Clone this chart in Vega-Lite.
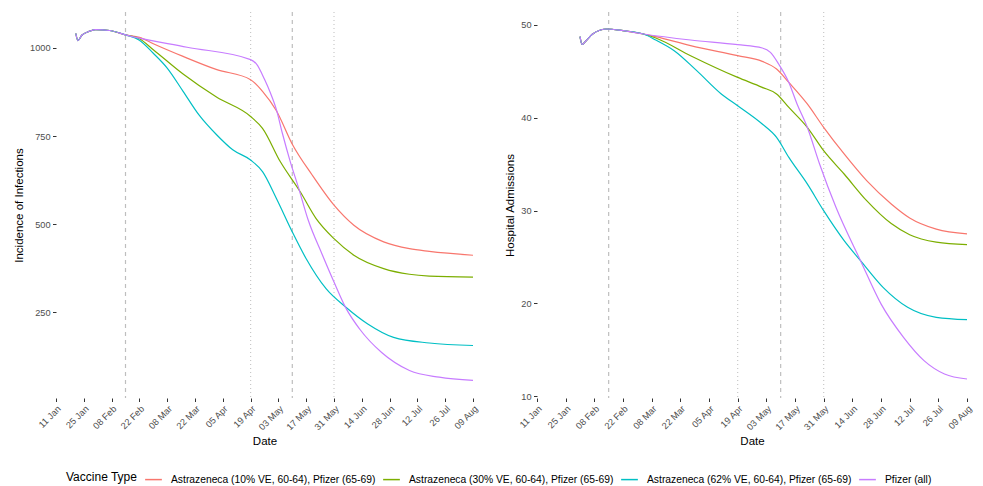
{
  "$schema": "https://vega.github.io/schema/vega-lite/v6.json",
  "background": "white",
  "padding": {"left": 13, "top": 11, "right": 5, "bottom": 0},
  "spacing": 64,
  "bounds": "flush",
  "datasets": {
    "vlines": [
      {"date": "2021-02-15", "kind": "dashed"},
      {"date": "2021-05-10", "kind": "dashed"},
      {"date": "2021-04-19", "kind": "dotted"},
      {"date": "2021-05-31", "kind": "dotted"}
    ],
    "curves": [
      {"panel": "inf", "series": "Astrazeneca (10% VE, 60-64), Pfizer (65-69)", "date": "2021-01-21", "value": 1041},
      {"panel": "inf", "series": "Astrazeneca (10% VE, 60-64), Pfizer (65-69)", "date": "2021-01-22", "value": 1021},
      {"panel": "inf", "series": "Astrazeneca (10% VE, 60-64), Pfizer (65-69)", "date": "2021-01-24", "value": 1036},
      {"panel": "inf", "series": "Astrazeneca (10% VE, 60-64), Pfizer (65-69)", "date": "2021-01-28", "value": 1047.6},
      {"panel": "inf", "series": "Astrazeneca (10% VE, 60-64), Pfizer (65-69)", "date": "2021-01-31", "value": 1052},
      {"panel": "inf", "series": "Astrazeneca (10% VE, 60-64), Pfizer (65-69)", "date": "2021-02-07", "value": 1049.5},
      {"panel": "inf", "series": "Astrazeneca (10% VE, 60-64), Pfizer (65-69)", "date": "2021-02-15", "value": 1037},
      {"panel": "inf", "series": "Astrazeneca (10% VE, 60-64), Pfizer (65-69)", "date": "2021-02-22", "value": 1030},
      {"panel": "inf", "series": "Astrazeneca (10% VE, 60-64), Pfizer (65-69)", "date": "2021-03-01", "value": 1012},
      {"panel": "inf", "series": "Astrazeneca (10% VE, 60-64), Pfizer (65-69)", "date": "2021-03-16", "value": 976},
      {"panel": "inf", "series": "Astrazeneca (10% VE, 60-64), Pfizer (65-69)", "date": "2021-04-02", "value": 938.5},
      {"panel": "inf", "series": "Astrazeneca (10% VE, 60-64), Pfizer (65-69)", "date": "2021-04-19", "value": 910},
      {"panel": "inf", "series": "Astrazeneca (10% VE, 60-64), Pfizer (65-69)", "date": "2021-04-25", "value": 877},
      {"panel": "inf", "series": "Astrazeneca (10% VE, 60-64), Pfizer (65-69)", "date": "2021-05-02", "value": 822},
      {"panel": "inf", "series": "Astrazeneca (10% VE, 60-64), Pfizer (65-69)", "date": "2021-05-10", "value": 727},
      {"panel": "inf", "series": "Astrazeneca (10% VE, 60-64), Pfizer (65-69)", "date": "2021-05-20", "value": 639.5},
      {"panel": "inf", "series": "Astrazeneca (10% VE, 60-64), Pfizer (65-69)", "date": "2021-05-31", "value": 554},
      {"panel": "inf", "series": "Astrazeneca (10% VE, 60-64), Pfizer (65-69)", "date": "2021-06-10", "value": 497},
      {"panel": "inf", "series": "Astrazeneca (10% VE, 60-64), Pfizer (65-69)", "date": "2021-06-25", "value": 450},
      {"panel": "inf", "series": "Astrazeneca (10% VE, 60-64), Pfizer (65-69)", "date": "2021-07-08", "value": 430.5},
      {"panel": "inf", "series": "Astrazeneca (10% VE, 60-64), Pfizer (65-69)", "date": "2021-07-18", "value": 423},
      {"panel": "inf", "series": "Astrazeneca (10% VE, 60-64), Pfizer (65-69)", "date": "2021-08-09", "value": 412},

      {"panel": "inf", "series": "Astrazeneca (30% VE, 60-64), Pfizer (65-69)", "date": "2021-01-21", "value": 1041},
      {"panel": "inf", "series": "Astrazeneca (30% VE, 60-64), Pfizer (65-69)", "date": "2021-01-22", "value": 1021},
      {"panel": "inf", "series": "Astrazeneca (30% VE, 60-64), Pfizer (65-69)", "date": "2021-01-24", "value": 1036},
      {"panel": "inf", "series": "Astrazeneca (30% VE, 60-64), Pfizer (65-69)", "date": "2021-01-28", "value": 1047.6},
      {"panel": "inf", "series": "Astrazeneca (30% VE, 60-64), Pfizer (65-69)", "date": "2021-01-31", "value": 1052},
      {"panel": "inf", "series": "Astrazeneca (30% VE, 60-64), Pfizer (65-69)", "date": "2021-02-07", "value": 1049.5},
      {"panel": "inf", "series": "Astrazeneca (30% VE, 60-64), Pfizer (65-69)", "date": "2021-02-15", "value": 1037},
      {"panel": "inf", "series": "Astrazeneca (30% VE, 60-64), Pfizer (65-69)", "date": "2021-02-22", "value": 1026},
      {"panel": "inf", "series": "Astrazeneca (30% VE, 60-64), Pfizer (65-69)", "date": "2021-03-01", "value": 995},
      {"panel": "inf", "series": "Astrazeneca (30% VE, 60-64), Pfizer (65-69)", "date": "2021-03-16", "value": 926},
      {"panel": "inf", "series": "Astrazeneca (30% VE, 60-64), Pfizer (65-69)", "date": "2021-04-02", "value": 860},
      {"panel": "inf", "series": "Astrazeneca (30% VE, 60-64), Pfizer (65-69)", "date": "2021-04-19", "value": 805.5},
      {"panel": "inf", "series": "Astrazeneca (30% VE, 60-64), Pfizer (65-69)", "date": "2021-04-25", "value": 772},
      {"panel": "inf", "series": "Astrazeneca (30% VE, 60-64), Pfizer (65-69)", "date": "2021-05-04", "value": 677},
      {"panel": "inf", "series": "Astrazeneca (30% VE, 60-64), Pfizer (65-69)", "date": "2021-05-14", "value": 592},
      {"panel": "inf", "series": "Astrazeneca (30% VE, 60-64), Pfizer (65-69)", "date": "2021-05-22", "value": 516},
      {"panel": "inf", "series": "Astrazeneca (30% VE, 60-64), Pfizer (65-69)", "date": "2021-05-31", "value": 459},
      {"panel": "inf", "series": "Astrazeneca (30% VE, 60-64), Pfizer (65-69)", "date": "2021-06-10", "value": 412},
      {"panel": "inf", "series": "Astrazeneca (30% VE, 60-64), Pfizer (65-69)", "date": "2021-06-25", "value": 374},
      {"panel": "inf", "series": "Astrazeneca (30% VE, 60-64), Pfizer (65-69)", "date": "2021-07-08", "value": 358},
      {"panel": "inf", "series": "Astrazeneca (30% VE, 60-64), Pfizer (65-69)", "date": "2021-07-18", "value": 353},
      {"panel": "inf", "series": "Astrazeneca (30% VE, 60-64), Pfizer (65-69)", "date": "2021-08-09", "value": 350},

      {"panel": "inf", "series": "Astrazeneca (62% VE, 60-64), Pfizer (65-69)", "date": "2021-01-21", "value": 1041},
      {"panel": "inf", "series": "Astrazeneca (62% VE, 60-64), Pfizer (65-69)", "date": "2021-01-22", "value": 1021},
      {"panel": "inf", "series": "Astrazeneca (62% VE, 60-64), Pfizer (65-69)", "date": "2021-01-24", "value": 1036},
      {"panel": "inf", "series": "Astrazeneca (62% VE, 60-64), Pfizer (65-69)", "date": "2021-01-28", "value": 1047.6},
      {"panel": "inf", "series": "Astrazeneca (62% VE, 60-64), Pfizer (65-69)", "date": "2021-01-31", "value": 1052},
      {"panel": "inf", "series": "Astrazeneca (62% VE, 60-64), Pfizer (65-69)", "date": "2021-02-07", "value": 1049.5},
      {"panel": "inf", "series": "Astrazeneca (62% VE, 60-64), Pfizer (65-69)", "date": "2021-02-15", "value": 1037},
      {"panel": "inf", "series": "Astrazeneca (62% VE, 60-64), Pfizer (65-69)", "date": "2021-02-22", "value": 1022},
      {"panel": "inf", "series": "Astrazeneca (62% VE, 60-64), Pfizer (65-69)", "date": "2021-03-01", "value": 985},
      {"panel": "inf", "series": "Astrazeneca (62% VE, 60-64), Pfizer (65-69)", "date": "2021-03-08", "value": 943},
      {"panel": "inf", "series": "Astrazeneca (62% VE, 60-64), Pfizer (65-69)", "date": "2021-03-16", "value": 877},
      {"panel": "inf", "series": "Astrazeneca (62% VE, 60-64), Pfizer (65-69)", "date": "2021-03-24", "value": 810},
      {"panel": "inf", "series": "Astrazeneca (62% VE, 60-64), Pfizer (65-69)", "date": "2021-04-02", "value": 753},
      {"panel": "inf", "series": "Astrazeneca (62% VE, 60-64), Pfizer (65-69)", "date": "2021-04-10", "value": 711},
      {"panel": "inf", "series": "Astrazeneca (62% VE, 60-64), Pfizer (65-69)", "date": "2021-04-19", "value": 682},
      {"panel": "inf", "series": "Astrazeneca (62% VE, 60-64), Pfizer (65-69)", "date": "2021-04-25", "value": 649},
      {"panel": "inf", "series": "Astrazeneca (62% VE, 60-64), Pfizer (65-69)", "date": "2021-05-02", "value": 573},
      {"panel": "inf", "series": "Astrazeneca (62% VE, 60-64), Pfizer (65-69)", "date": "2021-05-10", "value": 478},
      {"panel": "inf", "series": "Astrazeneca (62% VE, 60-64), Pfizer (65-69)", "date": "2021-05-17", "value": 402},
      {"panel": "inf", "series": "Astrazeneca (62% VE, 60-64), Pfizer (65-69)", "date": "2021-05-27", "value": 317},
      {"panel": "inf", "series": "Astrazeneca (62% VE, 60-64), Pfizer (65-69)", "date": "2021-06-06", "value": 264.5},
      {"panel": "inf", "series": "Astrazeneca (62% VE, 60-64), Pfizer (65-69)", "date": "2021-06-17", "value": 217},
      {"panel": "inf", "series": "Astrazeneca (62% VE, 60-64), Pfizer (65-69)", "date": "2021-06-30", "value": 179},
      {"panel": "inf", "series": "Astrazeneca (62% VE, 60-64), Pfizer (65-69)", "date": "2021-07-18", "value": 163},
      {"panel": "inf", "series": "Astrazeneca (62% VE, 60-64), Pfizer (65-69)", "date": "2021-08-09", "value": 156},

      {"panel": "inf", "series": "Pfizer (all)", "date": "2021-01-21", "value": 1041},
      {"panel": "inf", "series": "Pfizer (all)", "date": "2021-01-22", "value": 1021},
      {"panel": "inf", "series": "Pfizer (all)", "date": "2021-01-24", "value": 1036},
      {"panel": "inf", "series": "Pfizer (all)", "date": "2021-01-28", "value": 1047.6},
      {"panel": "inf", "series": "Pfizer (all)", "date": "2021-01-31", "value": 1052},
      {"panel": "inf", "series": "Pfizer (all)", "date": "2021-02-07", "value": 1049.5},
      {"panel": "inf", "series": "Pfizer (all)", "date": "2021-02-15", "value": 1037},
      {"panel": "inf", "series": "Pfizer (all)", "date": "2021-03-18", "value": 1002},
      {"panel": "inf", "series": "Pfizer (all)", "date": "2021-04-19", "value": 967},
      {"panel": "inf", "series": "Pfizer (all)", "date": "2021-04-22", "value": 954},
      {"panel": "inf", "series": "Pfizer (all)", "date": "2021-04-26", "value": 911},
      {"panel": "inf", "series": "Pfizer (all)", "date": "2021-04-29", "value": 872},
      {"panel": "inf", "series": "Pfizer (all)", "date": "2021-05-02", "value": 825},
      {"panel": "inf", "series": "Pfizer (all)", "date": "2021-05-05", "value": 758},
      {"panel": "inf", "series": "Pfizer (all)", "date": "2021-05-09", "value": 677},
      {"panel": "inf", "series": "Pfizer (all)", "date": "2021-05-13", "value": 606},
      {"panel": "inf", "series": "Pfizer (all)", "date": "2021-05-18", "value": 512},
      {"panel": "inf", "series": "Pfizer (all)", "date": "2021-05-25", "value": 415},
      {"panel": "inf", "series": "Pfizer (all)", "date": "2021-05-31", "value": 336},
      {"panel": "inf", "series": "Pfizer (all)", "date": "2021-06-06", "value": 262},
      {"panel": "inf", "series": "Pfizer (all)", "date": "2021-06-13", "value": 202},
      {"panel": "inf", "series": "Pfizer (all)", "date": "2021-06-24", "value": 136},
      {"panel": "inf", "series": "Pfizer (all)", "date": "2021-07-08", "value": 85},
      {"panel": "inf", "series": "Pfizer (all)", "date": "2021-07-23", "value": 66},
      {"panel": "inf", "series": "Pfizer (all)", "date": "2021-08-09", "value": 57},

      {"panel": "hosp", "series": "Astrazeneca (10% VE, 60-64), Pfizer (65-69)", "date": "2021-02-01", "value": 48.74},
      {"panel": "hosp", "series": "Astrazeneca (10% VE, 60-64), Pfizer (65-69)", "date": "2021-02-02", "value": 47.9},
      {"panel": "hosp", "series": "Astrazeneca (10% VE, 60-64), Pfizer (65-69)", "date": "2021-02-04", "value": 48.3},
      {"panel": "hosp", "series": "Astrazeneca (10% VE, 60-64), Pfizer (65-69)", "date": "2021-02-07", "value": 49.0},
      {"panel": "hosp", "series": "Astrazeneca (10% VE, 60-64), Pfizer (65-69)", "date": "2021-02-11", "value": 49.46},
      {"panel": "hosp", "series": "Astrazeneca (10% VE, 60-64), Pfizer (65-69)", "date": "2021-02-14", "value": 49.57},
      {"panel": "hosp", "series": "Astrazeneca (10% VE, 60-64), Pfizer (65-69)", "date": "2021-02-22", "value": 49.39},
      {"panel": "hosp", "series": "Astrazeneca (10% VE, 60-64), Pfizer (65-69)", "date": "2021-03-04", "value": 49.03},
      {"panel": "hosp", "series": "Astrazeneca (10% VE, 60-64), Pfizer (65-69)", "date": "2021-03-10", "value": 48.74},
      {"panel": "hosp", "series": "Astrazeneca (10% VE, 60-64), Pfizer (65-69)", "date": "2021-03-27", "value": 47.77},
      {"panel": "hosp", "series": "Astrazeneca (10% VE, 60-64), Pfizer (65-69)", "date": "2021-04-19", "value": 46.69},
      {"panel": "hosp", "series": "Astrazeneca (10% VE, 60-64), Pfizer (65-69)", "date": "2021-05-01", "value": 46.08},
      {"panel": "hosp", "series": "Astrazeneca (10% VE, 60-64), Pfizer (65-69)", "date": "2021-05-08", "value": 45.26},
      {"panel": "hosp", "series": "Astrazeneca (10% VE, 60-64), Pfizer (65-69)", "date": "2021-05-14", "value": 43.81},
      {"panel": "hosp", "series": "Astrazeneca (10% VE, 60-64), Pfizer (65-69)", "date": "2021-05-23", "value": 41.49},
      {"panel": "hosp", "series": "Astrazeneca (10% VE, 60-64), Pfizer (65-69)", "date": "2021-05-31", "value": 38.97},
      {"panel": "hosp", "series": "Astrazeneca (10% VE, 60-64), Pfizer (65-69)", "date": "2021-06-10", "value": 36.10},
      {"panel": "hosp", "series": "Astrazeneca (10% VE, 60-64), Pfizer (65-69)", "date": "2021-06-21", "value": 33.22},
      {"panel": "hosp", "series": "Astrazeneca (10% VE, 60-64), Pfizer (65-69)", "date": "2021-07-03", "value": 30.71},
      {"panel": "hosp", "series": "Astrazeneca (10% VE, 60-64), Pfizer (65-69)", "date": "2021-07-12", "value": 29.2},
      {"panel": "hosp", "series": "Astrazeneca (10% VE, 60-64), Pfizer (65-69)", "date": "2021-07-25", "value": 28.0},
      {"panel": "hosp", "series": "Astrazeneca (10% VE, 60-64), Pfizer (65-69)", "date": "2021-08-09", "value": 27.48},

      {"panel": "hosp", "series": "Astrazeneca (30% VE, 60-64), Pfizer (65-69)", "date": "2021-02-01", "value": 48.74},
      {"panel": "hosp", "series": "Astrazeneca (30% VE, 60-64), Pfizer (65-69)", "date": "2021-02-02", "value": 47.9},
      {"panel": "hosp", "series": "Astrazeneca (30% VE, 60-64), Pfizer (65-69)", "date": "2021-02-04", "value": 48.3},
      {"panel": "hosp", "series": "Astrazeneca (30% VE, 60-64), Pfizer (65-69)", "date": "2021-02-07", "value": 49.0},
      {"panel": "hosp", "series": "Astrazeneca (30% VE, 60-64), Pfizer (65-69)", "date": "2021-02-11", "value": 49.46},
      {"panel": "hosp", "series": "Astrazeneca (30% VE, 60-64), Pfizer (65-69)", "date": "2021-02-14", "value": 49.57},
      {"panel": "hosp", "series": "Astrazeneca (30% VE, 60-64), Pfizer (65-69)", "date": "2021-02-22", "value": 49.39},
      {"panel": "hosp", "series": "Astrazeneca (30% VE, 60-64), Pfizer (65-69)", "date": "2021-03-04", "value": 49.03},
      {"panel": "hosp", "series": "Astrazeneca (30% VE, 60-64), Pfizer (65-69)", "date": "2021-03-10", "value": 48.6},
      {"panel": "hosp", "series": "Astrazeneca (30% VE, 60-64), Pfizer (65-69)", "date": "2021-03-27", "value": 46.69},
      {"panel": "hosp", "series": "Astrazeneca (30% VE, 60-64), Pfizer (65-69)", "date": "2021-04-19", "value": 44.35},
      {"panel": "hosp", "series": "Astrazeneca (30% VE, 60-64), Pfizer (65-69)", "date": "2021-05-01", "value": 43.28},
      {"panel": "hosp", "series": "Astrazeneca (30% VE, 60-64), Pfizer (65-69)", "date": "2021-05-08", "value": 42.57},
      {"panel": "hosp", "series": "Astrazeneca (30% VE, 60-64), Pfizer (65-69)", "date": "2021-05-14", "value": 41.12},
      {"panel": "hosp", "series": "Astrazeneca (30% VE, 60-64), Pfizer (65-69)", "date": "2021-05-23", "value": 38.97},
      {"panel": "hosp", "series": "Astrazeneca (30% VE, 60-64), Pfizer (65-69)", "date": "2021-05-31", "value": 36.45},
      {"panel": "hosp", "series": "Astrazeneca (30% VE, 60-64), Pfizer (65-69)", "date": "2021-06-10", "value": 33.94},
      {"panel": "hosp", "series": "Astrazeneca (30% VE, 60-64), Pfizer (65-69)", "date": "2021-06-21", "value": 31.07},
      {"panel": "hosp", "series": "Astrazeneca (30% VE, 60-64), Pfizer (65-69)", "date": "2021-07-03", "value": 28.6},
      {"panel": "hosp", "series": "Astrazeneca (30% VE, 60-64), Pfizer (65-69)", "date": "2021-07-12", "value": 27.4},
      {"panel": "hosp", "series": "Astrazeneca (30% VE, 60-64), Pfizer (65-69)", "date": "2021-07-25", "value": 26.6},
      {"panel": "hosp", "series": "Astrazeneca (30% VE, 60-64), Pfizer (65-69)", "date": "2021-08-09", "value": 26.33},

      {"panel": "hosp", "series": "Astrazeneca (62% VE, 60-64), Pfizer (65-69)", "date": "2021-02-01", "value": 48.74},
      {"panel": "hosp", "series": "Astrazeneca (62% VE, 60-64), Pfizer (65-69)", "date": "2021-02-02", "value": 47.9},
      {"panel": "hosp", "series": "Astrazeneca (62% VE, 60-64), Pfizer (65-69)", "date": "2021-02-04", "value": 48.3},
      {"panel": "hosp", "series": "Astrazeneca (62% VE, 60-64), Pfizer (65-69)", "date": "2021-02-07", "value": 49.0},
      {"panel": "hosp", "series": "Astrazeneca (62% VE, 60-64), Pfizer (65-69)", "date": "2021-02-11", "value": 49.46},
      {"panel": "hosp", "series": "Astrazeneca (62% VE, 60-64), Pfizer (65-69)", "date": "2021-02-14", "value": 49.57},
      {"panel": "hosp", "series": "Astrazeneca (62% VE, 60-64), Pfizer (65-69)", "date": "2021-02-22", "value": 49.39},
      {"panel": "hosp", "series": "Astrazeneca (62% VE, 60-64), Pfizer (65-69)", "date": "2021-03-04", "value": 49.03},
      {"panel": "hosp", "series": "Astrazeneca (62% VE, 60-64), Pfizer (65-69)", "date": "2021-03-10", "value": 48.38},
      {"panel": "hosp", "series": "Astrazeneca (62% VE, 60-64), Pfizer (65-69)", "date": "2021-03-19", "value": 47.23},
      {"panel": "hosp", "series": "Astrazeneca (62% VE, 60-64), Pfizer (65-69)", "date": "2021-03-30", "value": 45.08},
      {"panel": "hosp", "series": "Astrazeneca (62% VE, 60-64), Pfizer (65-69)", "date": "2021-04-11", "value": 42.57},
      {"panel": "hosp", "series": "Astrazeneca (62% VE, 60-64), Pfizer (65-69)", "date": "2021-04-19", "value": 41.30},
      {"panel": "hosp", "series": "Astrazeneca (62% VE, 60-64), Pfizer (65-69)", "date": "2021-05-01", "value": 39.33},
      {"panel": "hosp", "series": "Astrazeneca (62% VE, 60-64), Pfizer (65-69)", "date": "2021-05-08", "value": 37.89},
      {"panel": "hosp", "series": "Astrazeneca (62% VE, 60-64), Pfizer (65-69)", "date": "2021-05-14", "value": 35.73},
      {"panel": "hosp", "series": "Astrazeneca (62% VE, 60-64), Pfizer (65-69)", "date": "2021-05-23", "value": 32.87},
      {"panel": "hosp", "series": "Astrazeneca (62% VE, 60-64), Pfizer (65-69)", "date": "2021-05-31", "value": 29.99},
      {"panel": "hosp", "series": "Astrazeneca (62% VE, 60-64), Pfizer (65-69)", "date": "2021-06-10", "value": 26.76},
      {"panel": "hosp", "series": "Astrazeneca (62% VE, 60-64), Pfizer (65-69)", "date": "2021-06-18", "value": 24.60},
      {"panel": "hosp", "series": "Astrazeneca (62% VE, 60-64), Pfizer (65-69)", "date": "2021-06-29", "value": 21.72},
      {"panel": "hosp", "series": "Astrazeneca (62% VE, 60-64), Pfizer (65-69)", "date": "2021-07-11", "value": 19.57},
      {"panel": "hosp", "series": "Astrazeneca (62% VE, 60-64), Pfizer (65-69)", "date": "2021-07-25", "value": 18.49},
      {"panel": "hosp", "series": "Astrazeneca (62% VE, 60-64), Pfizer (65-69)", "date": "2021-08-09", "value": 18.24},

      {"panel": "hosp", "series": "Pfizer (all)", "date": "2021-02-01", "value": 48.74},
      {"panel": "hosp", "series": "Pfizer (all)", "date": "2021-02-02", "value": 47.9},
      {"panel": "hosp", "series": "Pfizer (all)", "date": "2021-02-04", "value": 48.3},
      {"panel": "hosp", "series": "Pfizer (all)", "date": "2021-02-07", "value": 49.0},
      {"panel": "hosp", "series": "Pfizer (all)", "date": "2021-02-11", "value": 49.46},
      {"panel": "hosp", "series": "Pfizer (all)", "date": "2021-02-14", "value": 49.57},
      {"panel": "hosp", "series": "Pfizer (all)", "date": "2021-02-22", "value": 49.39},
      {"panel": "hosp", "series": "Pfizer (all)", "date": "2021-03-04", "value": 49.03},
      {"panel": "hosp", "series": "Pfizer (all)", "date": "2021-03-27", "value": 48.38},
      {"panel": "hosp", "series": "Pfizer (all)", "date": "2021-04-19", "value": 47.88},
      {"panel": "hosp", "series": "Pfizer (all)", "date": "2021-05-01", "value": 47.52},
      {"panel": "hosp", "series": "Pfizer (all)", "date": "2021-05-05", "value": 47.05},
      {"panel": "hosp", "series": "Pfizer (all)", "date": "2021-05-09", "value": 45.80},
      {"panel": "hosp", "series": "Pfizer (all)", "date": "2021-05-14", "value": 43.81},
      {"panel": "hosp", "series": "Pfizer (all)", "date": "2021-05-18", "value": 41.49},
      {"panel": "hosp", "series": "Pfizer (all)", "date": "2021-05-23", "value": 38.97},
      {"panel": "hosp", "series": "Pfizer (all)", "date": "2021-05-29", "value": 35.02},
      {"panel": "hosp", "series": "Pfizer (all)", "date": "2021-06-06", "value": 30.35},
      {"panel": "hosp", "series": "Pfizer (all)", "date": "2021-06-18", "value": 24.60},
      {"panel": "hosp", "series": "Pfizer (all)", "date": "2021-06-28", "value": 19.94},
      {"panel": "hosp", "series": "Pfizer (all)", "date": "2021-07-09", "value": 16.34},
      {"panel": "hosp", "series": "Pfizer (all)", "date": "2021-07-19", "value": 13.83},
      {"panel": "hosp", "series": "Pfizer (all)", "date": "2021-07-29", "value": 12.39},
      {"panel": "hosp", "series": "Pfizer (all)", "date": "2021-08-09", "value": 11.85}
    ]
  },
  "hconcat": [
    {
      "width": 417,
      "height": 386,
      "encoding": {
        "x": {
          "field": "date", "type": "temporal",
          "scale": {"type": "utc", "domain": [{"year": 2021, "month": 1, "date": 11, "utc": true}, {"year": 2021, "month": 8, "date": 9, "utc": true}]},
          "axis": {
            "title": "Date", "labelExpr": "utcFormat(datum.value, '%d %b')",
            "values": [
              {"year": 2021, "month": 1, "date": 11, "utc": true}, {"year": 2021, "month": 1, "date": 25, "utc": true},
              {"year": 2021, "month": 2, "date": 8, "utc": true}, {"year": 2021, "month": 2, "date": 22, "utc": true},
              {"year": 2021, "month": 3, "date": 8, "utc": true}, {"year": 2021, "month": 3, "date": 22, "utc": true},
              {"year": 2021, "month": 4, "date": 5, "utc": true}, {"year": 2021, "month": 4, "date": 19, "utc": true},
              {"year": 2021, "month": 5, "date": 3, "utc": true}, {"year": 2021, "month": 5, "date": 17, "utc": true},
              {"year": 2021, "month": 5, "date": 31, "utc": true}, {"year": 2021, "month": 6, "date": 14, "utc": true},
              {"year": 2021, "month": 6, "date": 28, "utc": true}, {"year": 2021, "month": 7, "date": 12, "utc": true},
              {"year": 2021, "month": 7, "date": 26, "utc": true}, {"year": 2021, "month": 8, "date": 9, "utc": true}
            ]
          }
        }
      },
      "layer": [
        {
          "data": {"name": "vlines"},
          "transform": [{"filter": "datum.kind === 'dashed'"}],
          "mark": {"type": "rule", "color": "#bebebe", "strokeWidth": 1.2, "strokeDash": [4, 4]},
          "encoding": {}
        },
        {
          "data": {"name": "vlines"},
          "transform": [{"filter": "datum.kind === 'dotted'"}],
          "mark": {"type": "rule", "color": "#c8c8c8", "strokeWidth": 1.2, "strokeDash": [1, 3]},
          "encoding": {}
        },
        {
          "data": {"name": "curves"},
          "transform": [{"filter": "datum.panel === 'inf'"}],
          "mark": {"type": "line", "interpolate": "monotone", "strokeWidth": 1.2},
          "encoding": {
            "y": {"field": "value", "type": "quantitative", "scale": {"domain": [7, 1102], "nice": false, "zero": false}, "axis": {"title": "Incidence of Infections", "values": [250, 500, 750, 1000], "format": "d"}},
            "color": {
              "field": "series", "type": "nominal",
              "scale": {"domain": ["Astrazeneca (10% VE, 60-64), Pfizer (65-69)", "Astrazeneca (30% VE, 60-64), Pfizer (65-69)", "Astrazeneca (62% VE, 60-64), Pfizer (65-69)", "Pfizer (all)"], "range": ["#F8766D", "#7CAE00", "#00BFC4", "#C77CFF"]},
              "legend": {"title": "Vaccine Type", "orient": "none", "legendX": 10, "legendY": 458, "direction": "horizontal", "titleOrient": "left"}
            }
          }
        }
      ]
    },
    {
      "width": 430,
      "height": 386,
      "encoding": {
        "x": {
          "field": "date", "type": "temporal",
          "scale": {"type": "utc", "domain": [{"year": 2021, "month": 1, "date": 11, "utc": true}, {"year": 2021, "month": 8, "date": 9, "utc": true}]},
          "axis": {
            "title": "Date", "labelExpr": "utcFormat(datum.value, '%d %b')",
            "values": [
              {"year": 2021, "month": 1, "date": 11, "utc": true}, {"year": 2021, "month": 1, "date": 25, "utc": true},
              {"year": 2021, "month": 2, "date": 8, "utc": true}, {"year": 2021, "month": 2, "date": 22, "utc": true},
              {"year": 2021, "month": 3, "date": 8, "utc": true}, {"year": 2021, "month": 3, "date": 22, "utc": true},
              {"year": 2021, "month": 4, "date": 5, "utc": true}, {"year": 2021, "month": 4, "date": 19, "utc": true},
              {"year": 2021, "month": 5, "date": 3, "utc": true}, {"year": 2021, "month": 5, "date": 17, "utc": true},
              {"year": 2021, "month": 5, "date": 31, "utc": true}, {"year": 2021, "month": 6, "date": 14, "utc": true},
              {"year": 2021, "month": 6, "date": 28, "utc": true}, {"year": 2021, "month": 7, "date": 12, "utc": true},
              {"year": 2021, "month": 7, "date": 26, "utc": true}, {"year": 2021, "month": 8, "date": 9, "utc": true}
            ]
          }
        }
      },
      "layer": [
        {
          "data": {"name": "vlines"},
          "transform": [{"filter": "datum.kind === 'dashed'"}],
          "mark": {"type": "rule", "color": "#bebebe", "strokeWidth": 1.2, "strokeDash": [4, 4]},
          "encoding": {}
        },
        {
          "data": {"name": "vlines"},
          "transform": [{"filter": "datum.kind === 'dotted'"}],
          "mark": {"type": "rule", "color": "#c8c8c8", "strokeWidth": 1.2, "strokeDash": [1, 3]},
          "encoding": {}
        },
        {
          "data": {"name": "curves"},
          "transform": [{"filter": "datum.panel === 'hosp'"}],
          "mark": {"type": "line", "interpolate": "monotone", "strokeWidth": 1.2},
          "encoding": {
            "y": {"field": "value", "type": "quantitative", "scale": {"domain": [9.8, 51.4], "nice": false, "zero": false}, "axis": {"title": "Hospital Admissions", "values": [10, 20, 30, 40, 50], "format": "d"}},
            "color": {
              "field": "series", "type": "nominal",
              "scale": {"domain": ["Astrazeneca (10% VE, 60-64), Pfizer (65-69)", "Astrazeneca (30% VE, 60-64), Pfizer (65-69)", "Astrazeneca (62% VE, 60-64), Pfizer (65-69)", "Pfizer (all)"], "range": ["#F8766D", "#7CAE00", "#00BFC4", "#C77CFF"]},
              "legend": {"title": "Vaccine Type", "orient": "none", "legendX": 10, "legendY": 458, "direction": "horizontal", "titleOrient": "left"}
            }
          }
        }
      ]
    }
  ],
  "config": {
    "font": "Liberation Sans",
    "view": {"stroke": null},
    "axis": {
      "domain": false, "grid": false,
      "tickColor": "#333333", "tickSize": 3.5, "tickWidth": 1,
      "labelColor": "#4d4d4d", "labelFontSize": 9.2, "labelPadding": 2.5, "labelFont": "Liberation Sans",
      "titleFont": "Liberation Sans", "titleFontSize": 11.5, "titleFontWeight": "normal", "titleColor": "#000000", "titlePadding": 5
    },
    "axisX": {"labelAngle": -45, "labelAlign": "right", "labelBaseline": "top", "labelOverlap": false, "labelFlush": false, "titlePadding": 4},
    "axisY": {"labelOverlap": false},
    "legend": {
      "labelFont": "Liberation Sans", "titleFont": "Liberation Sans",
      "labelFontSize": 10.3, "titleFontSize": 12, "titleFontWeight": "normal",
      "labelColor": "#000000", "titleColor": "#000000", "labelLimit": 400,
      "symbolType": "stroke", "symbolSize": 280, "symbolStrokeWidth": 1.5,
      "columnPadding": 4, "labelOffset": 8, "titlePadding": 6, "titleBaseline": "middle"
    }
  }
}
